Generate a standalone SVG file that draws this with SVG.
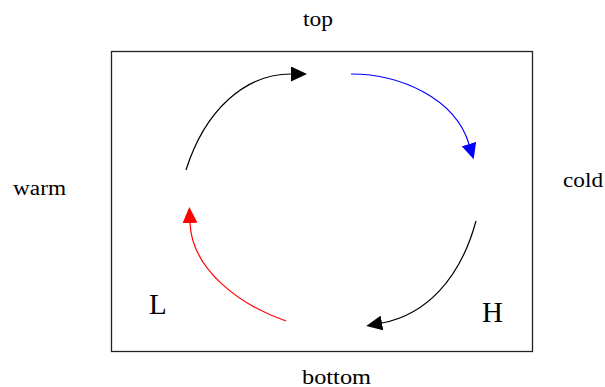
<svg xmlns="http://www.w3.org/2000/svg" width="605" height="387" viewBox="0 0 605 387">
<style>
text{font-family:"Liberation Serif","Times New Roman",serif;fill:#000}
.lbl{font-size:20.5px}
.big{font-size:29px}
.c{fill:none;stroke-width:1.2}
</style>
<defs>
<marker id="ak" markerUnits="userSpaceOnUse" markerWidth="16" markerHeight="15" refX="0" refY="7.5" orient="auto" viewBox="0 0 16 15"><path d="M0,0 L16,7.5 L0,15 z" fill="#000"/></marker>
<marker id="ab" markerUnits="userSpaceOnUse" markerWidth="16" markerHeight="15" refX="0" refY="7.5" orient="auto" viewBox="0 0 16 15"><path d="M0,0 L16,7.5 L0,15 z" fill="#0000ff"/></marker>
<marker id="ar" markerUnits="userSpaceOnUse" markerWidth="16" markerHeight="15" refX="0" refY="7.5" orient="auto" viewBox="0 0 16 15"><path d="M0,0 L16,7.5 L0,15 z" fill="#ff0000"/></marker>
</defs>
<rect width="605" height="387" fill="#fff"/>
<g id="frame"><rect x="111.5" y="51.5" width="421" height="300" fill="none" stroke="#222" stroke-width="1.3"/></g>
<g id="connectors">
<path class="c" stroke="#000" d="M186,170 C205,110 245,74 291,74" marker-end="url(#ak)"/>
<path class="c" stroke="#0000ff" d="M351,74 C400,74 455,98 469,144" marker-end="url(#ab)"/>
<path class="c" stroke="#000" d="M476,221 C460,280 425,315 382,323" marker-end="url(#ak)"/>
<path class="c" stroke="#ff0000" d="M286,321 C240,305 192,270 190,223" marker-end="url(#ar)"/>
</g>
<g id="top"><text class="lbl" x="303" y="26" textLength="30" lengthAdjust="spacingAndGlyphs">top</text></g>
<g id="bottom"><text class="lbl" x="302" y="384" textLength="69" lengthAdjust="spacingAndGlyphs">bottom</text></g>
<g id="warm"><text class="lbl" x="13" y="195" textLength="53" lengthAdjust="spacingAndGlyphs">warm</text></g>
<g id="cold"><text class="lbl" x="563" y="187" textLength="40" lengthAdjust="spacingAndGlyphs">cold</text></g>
<g id="L"><text class="big" x="149" y="314">L</text></g>
<g id="H"><text class="big" x="482" y="322">H</text></g>
</svg>
